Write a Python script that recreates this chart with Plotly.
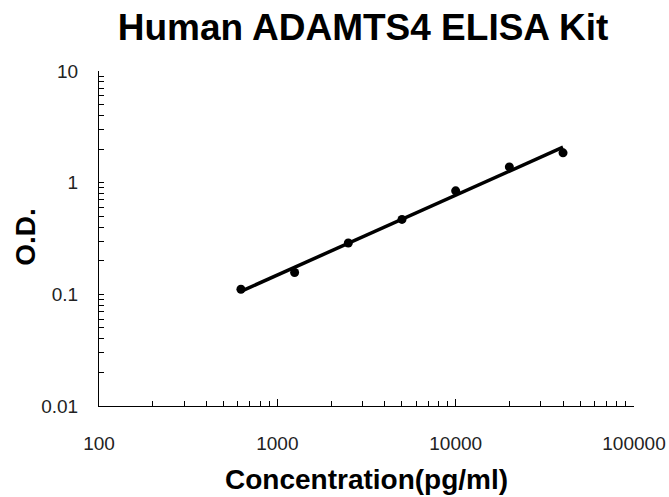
import numpy as np
import plotly.graph_objects as go

concentration = [625, 1250, 2500, 5000, 10000, 20000, 40000]
od = [0.111, 0.157, 0.288, 0.469, 0.845, 1.384, 1.85]

x_ticks = [100, 1000, 10000, 100000]
x_tick_text = ["100", "1000", "10000", "100000"]
y_ticks = [0.01, 0.1, 1, 10]
y_tick_text = ["0.01", "0.1", "1", "10"]

# power trendline fitted in log-log space
b, a = np.polyfit(np.log10(concentration), np.log10(od), 1)
fit_x = np.array([concentration[0], concentration[-1]], dtype=float)
fit_y = 10 ** (a + b * np.log10(fit_x))

fig = go.Figure()
fig.add_trace(go.Scatter(x=fit_x, y=fit_y, mode="lines",
                         line=dict(color="black", width=3.5), showlegend=False))
fig.add_trace(go.Scatter(x=concentration, y=od, mode="markers",
                         marker=dict(color="black", size=9), showlegend=False))

W, H = 669, 497
font = "Liberation Sans, Arial, sans-serif"
fig.update_layout(
    width=W, height=H,
    margin=dict(l=98.5, r=34.5, t=70.7, b=91, autoexpand=False),
    paper_bgcolor="white", plot_bgcolor="white",
    title=dict(text="<b>Human ADAMTS4 ELISA Kit</b>", x=363 / W, xanchor="center",
               xref="container", y=1 - 27 / H, yanchor="middle", yref="container",
               font=dict(family=font, size=37, color="black")),
    font=dict(family=font, color="black"),
    xaxis=dict(type="log", range=[2, 5], tickvals=x_ticks, ticktext=x_tick_text,
               ticks="inside", ticklen=7, tickcolor="black", tickwidth=1,
               minor=dict(ticks="inside", ticklen=5, tickcolor="black", tickwidth=1,
                          dtick="D1", showgrid=False),
               showline=True, linecolor="black", linewidth=1, showgrid=False,
               zeroline=False, ticklabelstandoff=20, automargin=False,
               tickfont=dict(size=19, family=font, color="#222")),
    yaxis=dict(type="log", range=[-2, 1], tickvals=y_ticks, ticktext=y_tick_text,
               ticks="inside", ticklen=5, tickcolor="black", tickwidth=1,
               minor=dict(ticks="inside", ticklen=5, tickcolor="black", tickwidth=1,
                          dtick="D1", showgrid=False),
               showline=True, linecolor="black", linewidth=1, showgrid=False,
               zeroline=False, ticklabelstandoff=16, automargin=False,
               tickfont=dict(size=19, family=font, color="#222")),
    annotations=[
        dict(text="<b>Concentration(pg/ml)</b>", xref="paper", yref="paper",
             x=(366 - 98.5) / 536, y=-(480 - 406) / 335.3, xanchor="center",
             yanchor="middle", showarrow=False,
             font=dict(size=28, family=font, color="black")),
        dict(text="<b>O.D.</b>", xref="paper", yref="paper", textangle=-90,
             x=-(98.5 - 25.5) / 536, y=(406 - 236.5) / 335.3, xanchor="center",
             yanchor="middle", showarrow=False,
             font=dict(size=28, family=font, color="black")),
    ],
)

fig.write_html("out.html", config={"displayModeBar": False},
               post_script="document.body.style.margin='0';")
